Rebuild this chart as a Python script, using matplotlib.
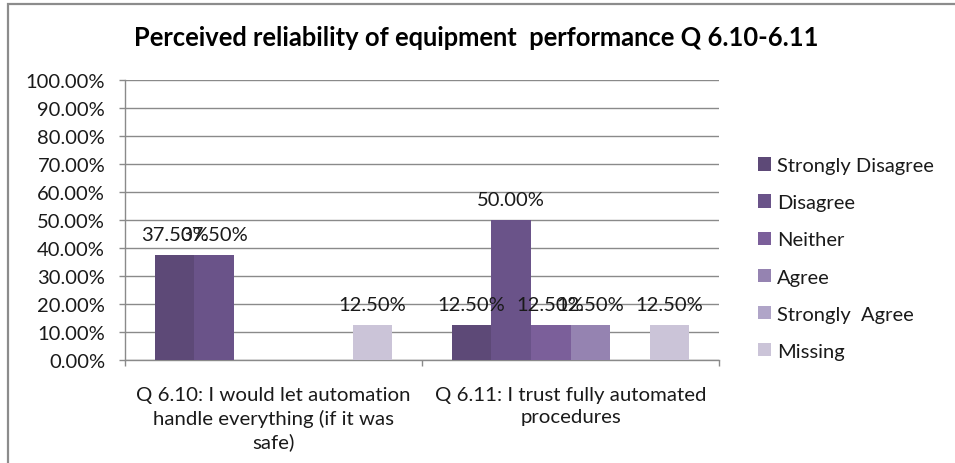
import matplotlib
matplotlib.use("Agg")
import matplotlib.pyplot as plt
import numpy as np
from matplotlib.font_manager import FontProperties
from matplotlib.patches import Rectangle

# ---- data ----
categories = ["Q 6.10: I would let automation\nhandle everything (if it was\nsafe)",
              "Q 6.11: I trust fully automated\nprocedures"]
series_names = ["Strongly Disagree", "Disagree", "Neither", "Agree", "Strongly  Agree", "Missing"]
q610 = [37.5, 37.5, 0.0, 0.0, 0.0, 12.5]
q611 = [12.5, 50.0, 12.5, 12.5, 0.0, 12.5]
yticks = [0, 10, 20, 30, 40, 50, 60, 70, 80, 90, 100]
title = "Perceived reliability of equipment  performance Q 6.10-6.11"

colors = ["#5D4977", "#6A5389", "#7B5F9A", "#9583B1", "#B0A5C8", "#CBC4D8"]

W, H, DPI = 955, 464, 100
fig = plt.figure(figsize=(W / DPI, H / DPI), dpi=DPI)
renderer = fig.canvas.get_renderer()
FAM = "Lato"

def fit(text, target_px, weight="normal"):
    fp = FontProperties(family=FAM, weight=weight, size=10)
    w, h, d = renderer.get_text_width_height_descent(text, fp, ismath=False)
    return 10 * target_px / w

fs_title = fit(title, 687, "bold")
fs_tick = fit("100.00%", 79)
fs_lab = fit("12.50%", 68)
fs_leg = fit("Strongly Disagree", 157)
fs_cat = fit("Q 6.10: I would let automation", 273)

# outer chart border
fig.patches.append(Rectangle((8 / W, 0 - 0.02), 1.2, (H - 5) / H + 0.02,
                             transform=fig.transFigure, fill=False,
                             edgecolor="#8C8C8C", linewidth=1.6))

left, right, y0, y100 = 125, 719, 361, 81
ax = fig.add_axes([left / W, (H - y0) / H, (right - left) / W, (y0 - y100) / H])

data = np.array([q610, q611])
n = len(series_names)
bw = 0.8 / n
centers = np.arange(len(categories)) + 0.5
for i, name in enumerate(series_names):
    xs = centers + (i - (n - 1) / 2) * bw
    vals = data[:, i]
    ax.bar(xs, vals, width=bw, color=colors[i], label=name, zorder=3, linewidth=0)
    for x, v in zip(xs, vals):
        if v > 0:
            ax.annotate(f"{v:.2f}%", (x, v), xytext=(0, 15), textcoords="offset points",
                        ha="center", va="center", fontsize=fs_lab, family=FAM,
                        color="#1A1A1A", zorder=5)

ax.set_xlim(0, 2)
ax.set_ylim(0, 100)
ax.set_yticks(yticks)
ax.set_yticklabels([f"{t:.2f}%" for t in yticks], fontsize=fs_tick, family=FAM, color="#1A1A1A")
ax.yaxis.grid(True, color="#8A8A8A", linewidth=1.0, zorder=0)
ax.set_axisbelow(True)
ax.tick_params(axis="y", direction="out", length=4.3, width=1.0, color="#8A8A8A", pad=10)

ax.set_xticks(centers)
ax.set_xticklabels(categories, fontsize=fs_cat, family=FAM, color="#1A1A1A", linespacing=1.35)
ax.set_xticks([0, 1, 2], minor=True)
ax.tick_params(axis="x", which="major", length=0, pad=19)
ax.tick_params(axis="x", which="minor", direction="out", length=4.3, width=1.0, color="#8A8A8A")

for s in ["top", "right"]:
    ax.spines[s].set_visible(False)
for s in ["left", "bottom"]:
    ax.spines[s].set_color("#8A8A8A")
    ax.spines[s].set_linewidth(1.0)

fig.text(476 / W, 1 - 38 / H, title, ha="center", va="center",
         fontsize=fs_title, family=FAM, weight="bold", color="#000000")

leg = fig.legend(loc="upper left", bbox_to_anchor=(758 / W, 1 - 158 / H),
                 frameon=False, prop=FontProperties(family=FAM, size=fs_leg),
                 handlelength=0.65, handleheight=0.65, handletextpad=0.3,
                 labelspacing=1.0, borderpad=0, borderaxespad=0)
for t in leg.get_texts():
    t.set_color("#1A1A1A")

fig.savefig("out.png", dpi=DPI)
